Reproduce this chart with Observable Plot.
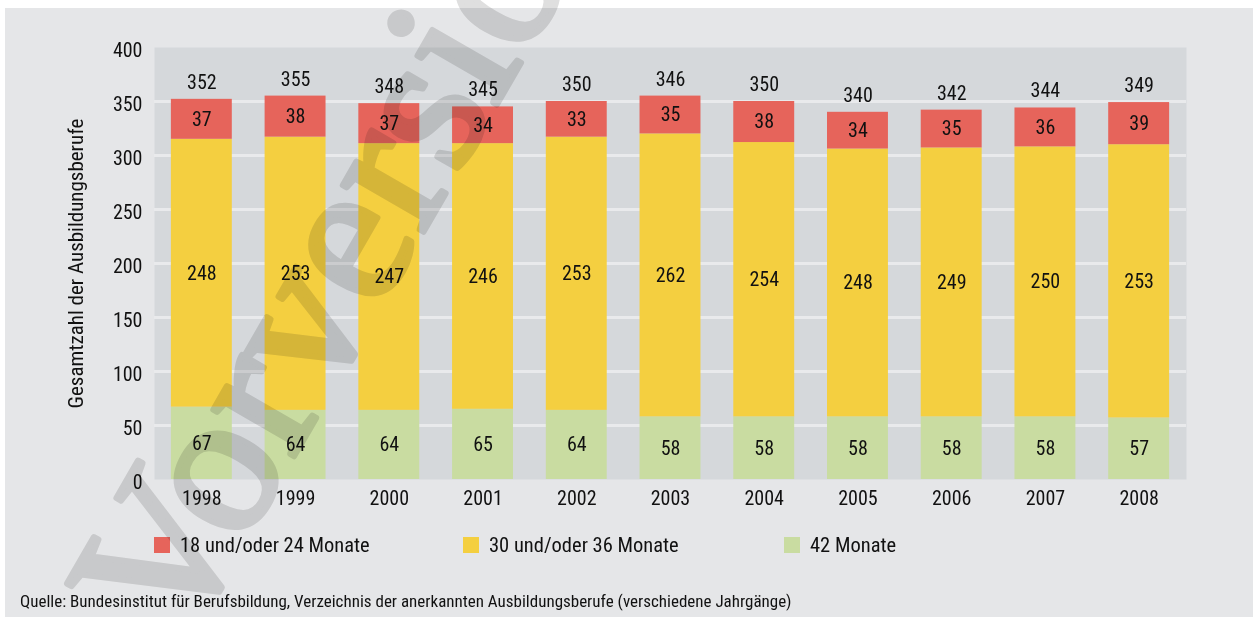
<!DOCTYPE html>
<html><head><meta charset="utf-8">
<script src="https://cdn.jsdelivr.net/npm/d3@7"></script>
<script src="https://cdn.jsdelivr.net/npm/@observablehq/plot@0.6"></script>
<style>
html,body{margin:0;padding:0;background:#fff;width:1253px;height:617px;overflow:hidden;}
#panel{position:absolute;left:5px;top:8px;width:1248px;height:609px;background:#e5e6e8;}
#chart{position:absolute;left:0;top:0;}
.f{font-family:"Roboto Condensed","Open Sans",sans-serif;color:#111;}
#legend{position:absolute;top:535px;left:0;height:20px;width:1253px;}
.item{position:absolute;top:0;display:flex;align-items:center;font-size:20.5px;white-space:nowrap;height:20px;}
.sw{width:16px;height:16px;margin-right:10px;flex:none;}
#source{position:absolute;left:20px;top:591px;font-size:17px;white-space:nowrap;}
#wm{position:absolute;left:0;top:0;pointer-events:none;mix-blend-mode:multiply;}
</style></head>
<body>
<div id="panel"></div>
<div id="chart" class="f"></div>
<div id="legend" class="f"></div>
<div id="source" class="f">Quelle: Bundesinstitut für Berufsbildung, Verzeichnis der anerkannten Ausbildungsberufe (verschiedene Jahrgänge)</div>
<svg id="wm" width="1253" height="617"><text transform="translate(181,652) rotate(-60)" font-family="Liberation Serif, Times New Roman, serif" font-size="203" fill="#dfdfdf" stroke="#dfdfdf" stroke-width="6" stroke-linejoin="round">Vorversion</text></svg>
<script>
const years = ["1998","1999","2000","2001","2002","2003","2004","2005","2006","2007","2008"];
const categories = ["42 Monate","30 und/oder 36 Monate","18 und/oder 24 Monate"];
const colors = ["#c9dca1","#f4cf40","#e6645b"];
const m42 = [67,64,64,65,64,58,58,58,58,58,57];
const m3036 = [248,253,247,246,253,262,254,248,249,250,253];
const m1824 = [37,38,37,34,33,35,38,34,35,36,39];
const totals = [352,355,348,345,350,346,350,340,342,344,349];
const yTicks = [0,50,100,150,200,250,300,350,400];
const gridTicks = [50,100,150,200,250,300,350];
const legendOrder = ["18 und/oder 24 Monate","30 und/oder 36 Monate","42 Monate"];

const series = [m42, m3036, m1824];
const long = [];
years.forEach((y, i) => categories.forEach((c, k) => long.push({year: y, category: c, value: series[k][i]})));
const tops = years.map((y, i) => ({year: y, top: m42[i] + m3036[i] + m1824[i], total: totals[i]}));

const font = '"Roboto Condensed","Open Sans",sans-serif';
const chart = Plot.plot({
  width: 1253, height: 520,
  marginLeft: 154, marginRight: 67, marginTop: 47, marginBottom: 41,
  style: {background: "transparent", fontFamily: font, fontSize: "20px", color: "#111"},
  x: {domain: years, paddingInner: 0.35, paddingOuter: 0.18, round: false, label: null},
  y: {domain: [0, 400]},
  color: {domain: categories, range: colors},
  marks: [
    Plot.frame({fill: "#d5d8db", stroke: "none"}),
    Plot.ruleY(gridTicks, {stroke: "#e9eaec", strokeWidth: 3}),
    Plot.barY(long, {x: "year", y: "value", fill: "category", order: categories}),
    Plot.text(long, Plot.stackY({x: "year", y: "value", z: "category", order: categories, text: d => String(d.value), fill: "#111", fontSize: 20, fontFamily: font})),
    Plot.text(tops, {x: "year", y: "top", text: d => String(d.total), dy: -17, fill: "#111", fontSize: 20, fontFamily: font}),
    Plot.axisX({tickSize: 0, tickPadding: 11, label: null, fontSize: 20}),
    Plot.axisY({ticks: yTicks, tickSize: 0, tickPadding: 12, dy: 3, fontSize: 20, label: null}),
    Plot.axisY({ticks: [], tickSize: 0, fontSize: 21, label: "Gesamtzahl der Ausbildungsberufe", labelAnchor: "center", labelArrow: "none", labelOffset: 86})
  ]
});
document.getElementById("chart").appendChild(chart);

const leg = document.getElementById("legend");
const legLeft = [154, 463, 784];
legendOrder.forEach((c, i) => {
  const it = document.createElement("div");
  it.className = "item";
  it.style.left = legLeft[i] + "px";
  const sw = document.createElement("div");
  sw.className = "sw";
  sw.style.background = colors[categories.indexOf(c)];
  const t = document.createElement("span");
  t.textContent = c;
  it.appendChild(sw); it.appendChild(t);
  leg.appendChild(it);
});
</script>
</body></html>
